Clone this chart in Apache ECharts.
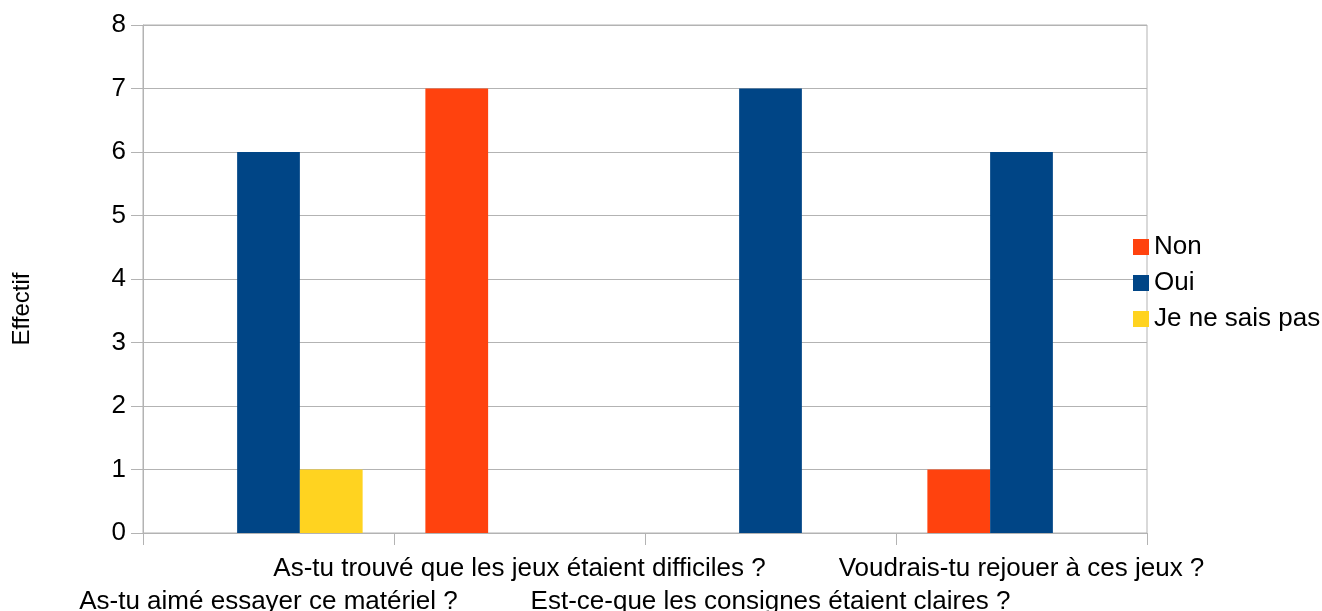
<!DOCTYPE html>
<html>
<head>
<meta charset="utf-8">
<title>Effectif</title>
<script src="https://cdn.jsdelivr.net/npm/echarts@6/dist/echarts.min.js"></script>
<style>
  html, body { margin: 0; padding: 0; background: #fff; }
  #chart { width: 1322px; height: 611px; }
</style>
</head>
<body>
<div id="chart"></div>
<script>
// questions
const categories = [
  'As-tu aimé essayer ce matériel ?',
  'As-tu trouvé que les jeux étaient difficiles ?',
  'Est-ce-que les consignes étaient claires ?',
  'Voudrais-tu rejouer à ces jeux ?'
];
// answers per question
const nonValues = [0, 7, 0, 1];
const ouiValues = [6, 0, 7, 6];
const nspValues = [1, 0, 0, 0];
const yTicks = [0, 1, 2, 3, 4, 5, 6, 7, 8];

const FONT = '"Liberation Sans", Arial, sans-serif';
const GRID_COLOR = '#b3b3b3';

const chart = echarts.init(document.getElementById('chart'));

chart.setOption({
  animation: false,
  textStyle: { fontFamily: FONT },
  color: ['#ff420e', '#004586', '#ffd320'],
  grid: {
    left: 143,
    right: 175,
    top: 25,
    bottom: 78,
    outerBoundsMode: 'none',
    containLabel: false,
    show: true,
    borderColor: GRID_COLOR,
    borderWidth: 1
  },
  legend: {
    orient: 'vertical',
    left: 1128,
    top: 229,
    itemWidth: 16,
    itemHeight: 16,
    itemGap: 10,
    icon: 'rect',
    textStyle: { fontSize: 26, color: '#000', fontFamily: FONT },
    data: ['Non', 'Oui', 'Je ne sais pas']
  },
  graphic: [{
    type: 'text',
    x: 22,
    y: 309,
    rotation: Math.PI / 2,
    style: {
      text: 'Effectif',
      fontSize: 24,
      fontFamily: FONT,
      fill: '#000',
      align: 'center',
      verticalAlign: 'middle'
    }
  }],
  xAxis: {
    type: 'category',
    data: categories,
    axisLine: { lineStyle: { color: GRID_COLOR } },
    axisTick: { show: true, length: 12, lineStyle: { color: GRID_COLOR } },
    axisLabel: {
      interval: 0,
      margin: 19,
      fontSize: 26,
      lineHeight: 33,
      color: '#000',
      fontFamily: FONT,
      // alternate rows so the long questions do not overlap
      formatter: (value, index) => (index % 2 === 0 ? '\n' + value : value)
    }
  },
  yAxis: {
    type: 'value',
    min: yTicks[0],
    max: yTicks[yTicks.length - 1],
    interval: 1,
    axisLine: { show: true, lineStyle: { color: GRID_COLOR } },
    axisTick: { show: true, length: 12, lineStyle: { color: GRID_COLOR } },
    axisLabel: { fontSize: 26, color: '#000', margin: 17, fontFamily: FONT },
    splitLine: { lineStyle: { color: GRID_COLOR } }
  },
  series: [
    { name: 'Non', type: 'bar', data: nonValues, barGap: '0%', barCategoryGap: '25%' },
    { name: 'Oui', type: 'bar', data: ouiValues, barGap: '0%', barCategoryGap: '25%' },
    { name: 'Je ne sais pas', type: 'bar', data: nspValues, barGap: '0%', barCategoryGap: '25%' }
  ]
});
</script>
</body>
</html>
